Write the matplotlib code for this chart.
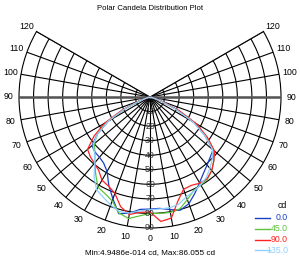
import numpy as np
import matplotlib.pyplot as plt

plt.rcParams['font.family'] = ['Liberation Sans', 'DejaVu Sans']

# vertical angle (deg), negative = left half of the plane
angles = [-90, -85, -80, -75, -70, -65, -60, -55, -50, -45, -40, -35, -30, -25, -20, -15, -10, -5,
          0, 5, 10, 15, 20, 25, 30, 35, 40, 45, 50, 55, 60, 65, 70, 75, 80, 85, 90]

cd_0 = [0, 0, 0.2, 1.5, 7, 19, 33, 44, 52, 53.5, 54, 55.5, 59, 67, 74.5, 83, 81, 77.5,
        77, 76.8, 78.5, 80.5, 78, 73, 68, 64, 61, 58.5, 56.5, 46, 35, 20, 8, 1.8, 0.2, 0, 0]
cd_45 = [0, 0, 0.2, 1.5, 7, 19, 34, 44, 50, 53.5, 59, 65, 71.5, 73.2, 76, 82.5, 84.8, 82,
         80, 80.3, 80.5, 79.5, 75, 71, 69.8, 68.8, 66, 62, 57, 47, 35, 20, 8, 1.8, 0.2, 0, 0]
cd_90 = [0, 0, 0.2, 1.8, 8, 21, 36, 47, 56, 58, 59.5, 61.5, 66, 67.5, 70.5, 78, 82, 79.5,
         79, 85.8, 84.5, 74, 67.5, 67, 68.4, 68.5, 66, 62, 58, 48, 37, 22, 9, 2, 0.2, 0, 0]
cd_135 = [0, 0, 0.2, 1.5, 7, 19, 33, 44, 51, 54, 59, 67, 73.5, 76, 79, 81.5, 81, 78.5,
          77.5, 77.2, 77.3, 76.3, 73, 71.5, 69.5, 67.5, 64, 60.5, 56, 46, 34, 19, 7.5, 1.6, 0.2, 0, 0]

series = [('0.0', cd_0, '#1a3fc4'), ('45.0', cd_45, '#5ec43a'),
          ('90.0', cd_90, '#ff2222'), ('135.0', cd_135, '#8fd0ff')]

grid_angles = np.arange(-120, 121, 10)
rings = np.arange(10, 100, 10)

fig = plt.figure(figsize=(3, 2.61), dpi=100)
# polar axes get squared, wedge is centred in the box
ax = fig.add_axes([19 / 300, 0.25 / 261, 262 / 300, 262 / 261], projection='polar')
ax.set_theta_zero_location('S')
ax.set_thetamin(-120)
ax.set_thetamax(120)
ax.set_ylim(0, 90)
ax.set_xticks(np.deg2rad(grid_angles))
ax.set_xticklabels([])
ax.set_yticks(rings[:-1])
ax.set_yticklabels([])
ax.grid(color='black', lw=0.8)
for s in ax.spines.values():
    s.set_color('black')
    s.set_linewidth(0.8)

# thick grey horizontal axis
for a in (-90, 90):
    ax.plot([np.deg2rad(a)] * 2, [0, 90], color='#555555', lw=1.8, zorder=3)

th = np.deg2rad(angles)
for name, vals, col in series:
    ax.plot(th, vals, color=col, lw=0.9, zorder=4)

for a in grid_angles:
    ax.text(np.deg2rad(a), 97.5, str(abs(a)), ha='center', va='center', fontsize=6.3, clip_on=False)
for r in rings:
    ax.text(0, r, str(r), ha='center', va='center', fontsize=6.3, color='#333333', zorder=5)

fig.text(0.5, 1 - 8 / 261, 'Polar Candela Distribution Plot', ha='center', va='center', fontsize=5.6)
fig.text(0.5, 1 - 253 / 261, 'Min:4.9486e-014 cd, Max:86.055 cd', ha='center', va='center', fontsize=5.9)

# legend
fig.text(287 / 300, 1 - 206 / 261, 'cd', ha='right', va='center', fontsize=6.3)
for i, (name, vals, col) in enumerate(series):
    y = 1 - (218 + 10.8 * i) / 261
    fig.add_artist(plt.Line2D([255 / 300, 270 / 300], [y, y], color=col, lw=1))
    fig.text(288 / 300, y, name, ha='right', va='center', fontsize=6.3, color=col)

fig.savefig('out.png', dpi=100)
